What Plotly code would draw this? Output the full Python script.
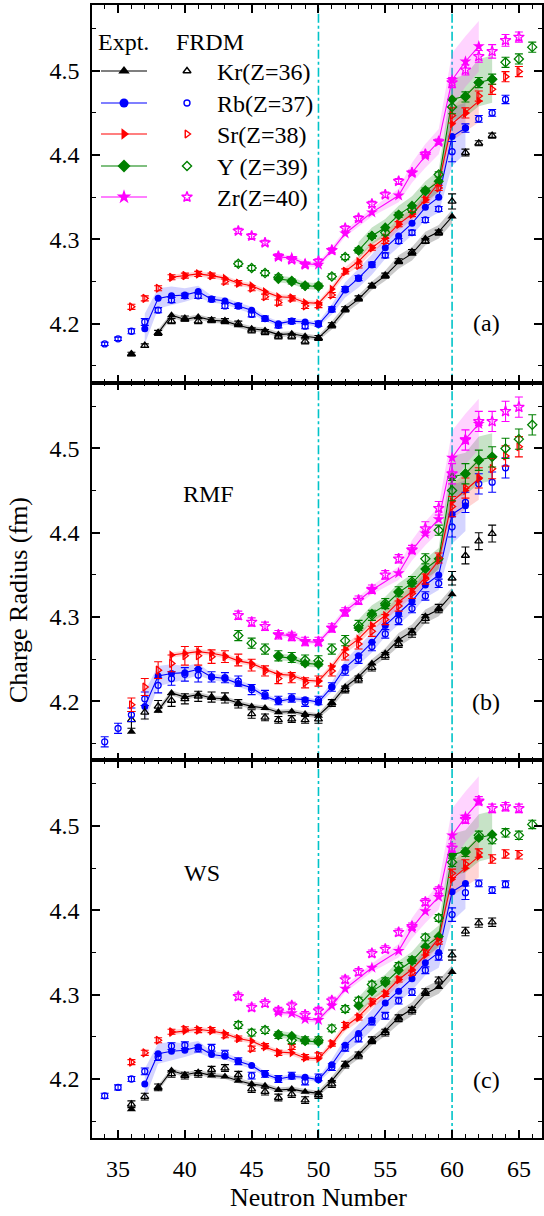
import plotly.graph_objects as go

FONT = "Liberation Serif"

# ---------------- experimental radii (filled symbols + lines) with bands ----------------
kr_exp_N = list(range(36, 61))
kr_exp_R = [4.164, None, 4.189, 4.210, 4.205, 4.208, 4.204, 4.203, 4.198, 4.194,
            4.192, 4.187, 4.188, 4.185, 4.183, 4.198, 4.217, 4.229, 4.245, 4.257,
            4.273, 4.283, 4.301, 4.309, 4.327]
kr_exp_band = [0.002, None, 0.004, 0.003, 0.003, 0.003, 0.003, 0.003, 0.003, 0.003,
               0.003, 0.003, 0.003, 0.003, 0.003, 0.005, 0.005, 0.005, 0.005, 0.006,
               0.008, 0.008, 0.008, 0.008, 0.008]

rb_exp_N = list(range(37, 62))
rb_exp_R = [4.194, 4.230, 4.233, 4.234, 4.238, 4.229, 4.227, 4.221, 4.216, 4.206,
            4.200, 4.203, 4.202, 4.199, 4.217, 4.240, 4.254, 4.270, 4.290, 4.304,
            4.319, 4.338, 4.350, 4.422, 4.432]
rb_exp_band = [0.018, 0.012, 0.011, 0.008, 0.007, 0.004, 0.004, 0.004, 0.004, 0.003,
               0.003, 0.003, 0.003, 0.003, 0.006, 0.009, 0.011, 0.012, 0.013, 0.013,
               0.014, 0.015, 0.018, 0.035, 0.030]

sr_exp_N = list(range(39, 63))
sr_exp_R = [4.255, 4.257, 4.259, 4.257, 4.254, 4.248, 4.245, 4.238, 4.232, 4.231,
            4.225, 4.224, 4.241, 4.262, 4.274, 4.290, 4.302, 4.318, 4.330, 4.347,
            4.367, 4.437, 4.450, 4.464]
sr_exp_band = [0.003, 0.003, 0.003, 0.003, 0.003, 0.003, 0.003, 0.003, 0.003, 0.003,
               0.003, 0.003, 0.004, 0.005, 0.006, 0.006, 0.006, 0.007, 0.007, 0.008,
               0.009, 0.020, 0.022, 0.025]

y_exp_N = list(range(47, 64))
y_exp_R = [4.253, 4.251, 4.245, 4.244, None, None, 4.287, 4.304, 4.314, 4.329,
           4.340, 4.357, 4.369, 4.466, 4.470, 4.486, 4.490]
y_exp_band = [0.004, 0.004, 0.004, 0.004, None, None, 0.010, 0.010, 0.010, 0.011,
              0.011, 0.012, 0.013, 0.025, 0.025, 0.028, 0.028]

zr_exp_N = [47, 48, 49, 50, 51, 52, 54, 56, 57, 58, 59, 60, 61, 62]
zr_exp_R = [4.279, 4.278, 4.271, 4.270, 4.287, 4.307, 4.332, 4.352, 4.379, 4.399,
            4.416, 4.489, 4.511, 4.529]
zr_exp_band = [0.003, 0.003, 0.003, 0.003, 0.004, 0.004, 0.005, 0.008, 0.012, 0.014,
               0.015, 0.032, 0.030, 0.030]

# ---------------- model predictions (open symbols with error bars) ----------------
kr_th_N = list(range(36, 64))
rb_th_N = list(range(34, 65))
sr_th_N = list(range(36, 66))
y_th_N = list(range(44, 67))
zr_th_N = list(range(44, 66))

# (a) FRDM
frdm_kr_R = [4.164, 4.174, 4.189, 4.203, 4.206, 4.203, 4.204, 4.203, 4.200, 4.192,
             4.190, 4.185, 4.185, 4.179, 4.183, 4.198, 4.217, 4.230, 4.245, 4.257,
             4.274, 4.285, 4.298, 4.308, 4.345, 4.403, 4.414, 4.423]
frdm_kr_E = [0.002, 0.002, 0.003, 0.003, 0.003, 0.003, 0.003, 0.003, 0.003, 0.003,
             0.003, 0.003, 0.003, 0.003, 0.003, 0.003, 0.003, 0.003, 0.003, 0.003,
             0.003, 0.003, 0.003, 0.003, 0.009, 0.004, 0.003, 0.003]
frdm_rb_R = [4.176, 4.182, 4.191, 4.202, 4.216, 4.228, 4.233, 4.233, 4.229, 4.221,
             4.221, 4.211, 4.206, 4.198, 4.203, 4.197, 4.200, 4.217, 4.241, 4.254,
             4.270, 4.281, 4.298, 4.308, 4.323, 4.336, 4.404, 4.432, 4.443, 4.450,
             4.466]
frdm_rb_E = [0.002, 0.002, 0.003, 0.004, 0.003, 0.003, 0.003, 0.003, 0.003, 0.003,
             0.003, 0.003, 0.003, 0.003, 0.003, 0.003, 0.003, 0.003, 0.003, 0.003,
             0.003, 0.003, 0.003, 0.003, 0.003, 0.003, 0.012, 0.005, 0.004, 0.004,
             0.005]
frdm_sr_R = [4.220, 4.230, 4.242, 4.255, 4.257, 4.259, 4.257, 4.250, 4.248, 4.242,
             4.232, 4.225, 4.230, 4.221, 4.222, 4.234, 4.262, 4.269, 4.290, 4.298,
             4.318, 4.330, 4.347, 4.361, 4.447, 4.450, 4.470, 4.478, 4.493, 4.499]
frdm_sr_E = [0.003, 0.003, 0.003, 0.003, 0.003, 0.003, 0.003, 0.003, 0.003, 0.003,
             0.003, 0.003, 0.003, 0.003, 0.003, 0.003, 0.003, 0.003, 0.003, 0.003,
             0.003, 0.003, 0.003, 0.003, 0.009, 0.006, 0.006, 0.006, 0.006, 0.006]
frdm_y_R = [4.271, 4.266, 4.260, 4.255, 4.250, 4.245, 4.245, 4.256, 4.279, 4.287,
            4.304, 4.308, 4.329, 4.335, 4.358, 4.377, 4.457, 4.469, 4.486, 4.490,
            4.510, 4.514, 4.528]
frdm_y_E = [0.003, 0.003, 0.003, 0.003, 0.003, 0.003, 0.003, 0.003, 0.003, 0.003,
            0.003, 0.003, 0.003, 0.003, 0.003, 0.003, 0.008, 0.006, 0.006, 0.006,
            0.006, 0.006, 0.006]
frdm_zr_R = [4.310, 4.304, 4.296, 4.280, 4.276, 4.270, 4.274, 4.287, 4.313, 4.325,
             4.342, 4.353, 4.369, 4.379, 4.401, 4.416, 4.486, 4.501, 4.517, 4.523,
             4.536, 4.540]
frdm_zr_E = [0.003, 0.003, 0.003, 0.003, 0.003, 0.003, 0.003, 0.003, 0.003, 0.003,
             0.003, 0.003, 0.003, 0.003, 0.003, 0.003, 0.006, 0.006, 0.007, 0.008,
             0.007, 0.006]

# (b) RMF
rmf_kr_R = [4.178, 4.187, 4.194, 4.201, 4.203, 4.206, 4.205, 4.204, 4.197, 4.185,
            4.181, 4.178, 4.179, 4.178, 4.179, 4.198, 4.214, 4.226, 4.240, 4.254,
            4.268, 4.281, 4.298, 4.310, 4.346, 4.373, 4.390, 4.399]
rmf_kr_E = [0.010, 0.008, 0.007, 0.007, 0.006, 0.006, 0.006, 0.006, 0.005, 0.005,
            0.004, 0.004, 0.004, 0.004, 0.005, 0.004, 0.004, 0.004, 0.004, 0.004,
            0.004, 0.005, 0.005, 0.005, 0.008, 0.010, 0.010, 0.010]
rmf_rb_R = [4.152, 4.168, 4.184, 4.203, 4.219, 4.227, 4.232, 4.231, 4.229, 4.228,
            4.224, 4.214, 4.208, 4.201, 4.204, 4.199, 4.201, 4.217, 4.236, 4.250,
            4.265, 4.280, 4.296, 4.310, 4.325, 4.340, 4.407, 4.436, 4.458, 4.460,
            4.477]
rmf_rb_E = [0.006, 0.006, 0.008, 0.008, 0.009, 0.008, 0.008, 0.008, 0.006, 0.006,
            0.006, 0.006, 0.005, 0.005, 0.005, 0.005, 0.005, 0.005, 0.005, 0.005,
            0.005, 0.005, 0.005, 0.005, 0.005, 0.005, 0.012, 0.012, 0.012, 0.012,
            0.012]
rmf_sr_R = [4.196, 4.217, 4.237, 4.245, 4.254, 4.254, 4.253, 4.253, 4.249, 4.243,
            4.236, 4.227, 4.228, 4.222, 4.224, 4.236, 4.255, 4.268, 4.283, 4.297,
            4.313, 4.328, 4.345, 4.370, 4.431, 4.453, 4.465, 4.476, 4.491, 4.502]
rmf_sr_E = [0.008, 0.010, 0.010, 0.010, 0.011, 0.011, 0.008, 0.007, 0.007, 0.007,
            0.006, 0.006, 0.006, 0.006, 0.006, 0.006, 0.006, 0.006, 0.006, 0.006,
            0.006, 0.006, 0.006, 0.006, 0.012, 0.012, 0.012, 0.012, 0.012, 0.012]
rmf_y_R = [4.278, 4.269, 4.262, 4.254, 4.252, 4.249, 4.248, 4.262, 4.272, 4.290,
           4.302, 4.316, 4.330, 4.342, 4.369, 4.403, 4.450, 4.470, 4.486, 4.490,
           4.500, 4.511, 4.528]
rmf_y_E = [0.006, 0.006, 0.006, 0.006, 0.006, 0.006, 0.006, 0.006, 0.006, 0.006,
           0.006, 0.006, 0.006, 0.006, 0.006, 0.006, 0.012, 0.012, 0.012, 0.012,
           0.012, 0.012, 0.012]
rmf_zr_R = [4.302, 4.294, 4.289, 4.279, 4.277, 4.271, 4.271, 4.287, 4.306, 4.320,
            4.333, 4.350, 4.369, 4.380, 4.405, 4.429, 4.470, 4.510, 4.532, 4.532,
            4.544, 4.549]
rmf_zr_E = [0.005, 0.005, 0.005, 0.005, 0.005, 0.005, 0.005, 0.005, 0.005, 0.005,
            0.005, 0.005, 0.005, 0.005, 0.008, 0.008, 0.012, 0.012, 0.012, 0.012,
            0.012, 0.012]

# (c) WS
ws_kr_R = [4.170, 4.179, 4.190, 4.206, 4.204, 4.206, 4.211, 4.213, 4.205, 4.188,
           4.185, 4.178, 4.182, 4.175, 4.181, 4.194, 4.217, 4.228, 4.246, 4.255,
           4.272, 4.281, 4.303, 4.317, 4.347, 4.375, 4.385, 4.386]
ws_kr_E = [0.004, 0.004, 0.004, 0.004, 0.004, 0.004, 0.004, 0.004, 0.004, 0.004,
           0.004, 0.004, 0.004, 0.004, 0.004, 0.004, 0.004, 0.004, 0.004, 0.004,
           0.004, 0.004, 0.004, 0.004, 0.006, 0.005, 0.005, 0.005]
ws_rb_R = [4.180, 4.190, 4.200, 4.209, 4.226, 4.239, 4.240, 4.236, 4.237, 4.230,
           4.221, 4.204, 4.206, 4.200, 4.204, 4.197, 4.202, 4.214, 4.237, 4.248,
           4.268, 4.275, 4.293, 4.303, 4.329, 4.345, 4.395, 4.421, 4.432, 4.424,
           4.431]
ws_rb_E = [0.003, 0.003, 0.003, 0.004, 0.004, 0.004, 0.004, 0.004, 0.004, 0.004,
           0.004, 0.004, 0.004, 0.004, 0.004, 0.004, 0.004, 0.004, 0.004, 0.004,
           0.004, 0.004, 0.004, 0.004, 0.004, 0.004, 0.008, 0.008, 0.004, 0.004,
           0.004]
ws_sr_R = [4.220, 4.231, 4.246, 4.256, 4.259, 4.258, 4.258, 4.252, 4.248, 4.236,
           4.239, 4.231, 4.238, 4.226, 4.228, 4.242, 4.264, 4.273, 4.292, 4.301,
           4.318, 4.326, 4.350, 4.363, 4.444, 4.455, 4.468, 4.461, 4.467, 4.466]
ws_sr_E = [0.003, 0.003, 0.003, 0.003, 0.003, 0.003, 0.003, 0.003, 0.003, 0.003,
           0.003, 0.003, 0.003, 0.003, 0.003, 0.003, 0.003, 0.003, 0.003, 0.003,
           0.003, 0.003, 0.003, 0.003, 0.005, 0.005, 0.005, 0.005, 0.005, 0.005]
ws_y_R = [4.264, 4.255, 4.258, 4.252, 4.246, 4.246, 4.246, 4.260, 4.283, 4.293,
          4.312, 4.316, 4.334, 4.341, 4.368, 4.391, 4.457, 4.469, 4.489, 4.484,
          4.492, 4.489, 4.502]
ws_y_E = [0.004, 0.004, 0.004, 0.004, 0.004, 0.004, 0.004, 0.004, 0.004, 0.004,
          0.004, 0.004, 0.004, 0.004, 0.004, 0.004, 0.005, 0.005, 0.005, 0.005,
          0.005, 0.005, 0.005]
ws_zr_R = [4.298, 4.285, 4.290, 4.281, 4.287, 4.276, 4.281, 4.293, 4.318, 4.327,
           4.349, 4.354, 4.374, 4.381, 4.410, 4.424, 4.474, 4.508, 4.530, 4.521,
           4.523, 4.521]
ws_zr_E = [0.004, 0.004, 0.004, 0.004, 0.004, 0.004, 0.004, 0.004, 0.004, 0.004,
           0.004, 0.004, 0.004, 0.004, 0.004, 0.004, 0.005, 0.005, 0.005, 0.005,
           0.005, 0.005]

legend_labels = ["Kr(Z=36)", "Rb(Z=37)", "Sr(Z=38)", "Y (Z=39)", "Zr(Z=40)"]
panel_tags = ["(a)", "(b)", "(c)"]
model_names = ["FRDM", "RMF", "WS"]

# ---------------- styles ----------------
ELEMENTS = [
    dict(color="#000000", band="rgba(80,80,80,0.30)", sym="triangle-up", fs=8, os=7,
         eN=kr_exp_N, eR=kr_exp_R, eB=kr_exp_band, tN=kr_th_N,
         th=[(frdm_kr_R, frdm_kr_E), (rmf_kr_R, rmf_kr_E), (ws_kr_R, ws_kr_E)]),
    dict(color="#0000FF", band="rgba(60,60,255,0.22)", sym="circle", fs=7, os=6,
         eN=rb_exp_N, eR=rb_exp_R, eB=rb_exp_band, tN=rb_th_N,
         th=[(frdm_rb_R, frdm_rb_E), (rmf_rb_R, rmf_rb_E), (ws_rb_R, ws_rb_E)]),
    dict(color="#FF0000", band="rgba(255,60,60,0.22)", sym="triangle-right", fs=8, os=7,
         eN=sr_exp_N, eR=sr_exp_R, eB=sr_exp_band, tN=sr_th_N,
         th=[(frdm_sr_R, frdm_sr_E), (rmf_sr_R, rmf_sr_E), (ws_sr_R, ws_sr_E)]),
    dict(color="#008000", band="rgba(0,128,0,0.22)", sym="diamond", fs=8, os=7,
         eN=y_exp_N, eR=y_exp_R, eB=y_exp_band, tN=y_th_N,
         th=[(frdm_y_R, frdm_y_E), (rmf_y_R, rmf_y_E), (ws_y_R, ws_y_E)]),
    dict(color="#FF00FF", band="rgba(255,60,255,0.22)", sym="star", fs=9, os=8,
         eN=zr_exp_N, eR=zr_exp_R, eB=zr_exp_band, tN=zr_th_N,
         th=[(frdm_zr_R, frdm_zr_E), (rmf_zr_R, rmf_zr_E), (ws_zr_R, ws_zr_E)]),
]

# figure geometry (pixels)
W, H = 544, 1216
ML, MR, MT, MB = 92, 2, 5, 78
PW, PH = W - ML - MR, H - MT - MB
THIRD = PH / 3.0
XR = [33.05, 66.73]
YR = [4.13, 4.578]


def px_to_paper(px, py):
    return (px - ML) / PW, (MT + PH - py) / PH


def px_to_panel_a(px, py):
    n = XR[0] + (px - ML) / PW * (XR[1] - XR[0])
    r = YR[1] - (py - MT) / THIRD * (YR[1] - YR[0])
    return n, r


def segments(N, R, B):
    segs, cur = [], []
    for n, r, b in zip(N, R, B):
        if r is None:
            if cur:
                segs.append(cur)
            cur = []
        else:
            cur.append((n, r, b))
    if cur:
        segs.append(cur)
    return segs


fig = go.Figure()
ax_names = ["", "2", "3"]

for p in range(3):
    xa, ya = "x" + ax_names[p], "y" + ax_names[p]
    for el in ELEMENTS:
        for seg in segments(el["eN"], el["eR"], el["eB"]):
            if len(seg) < 2:
                continue
            xs = [s[0] for s in seg] + [s[0] for s in seg[::-1]]
            ys = [s[1] + s[2] for s in seg] + [s[1] - s[2] for s in seg[::-1]]
            fig.add_trace(go.Scatter(x=xs, y=ys, fill="toself", fillcolor=el["band"],
                                     line=dict(width=0), mode="lines", hoverinfo="skip",
                                     xaxis=xa, yaxis=ya))
    for el in ELEMENTS:
        fig.add_trace(go.Scatter(x=el["eN"], y=el["eR"], mode="lines+markers",
                                 connectgaps=False,
                                 line=dict(color=el["color"], width=1.1),
                                 marker=dict(symbol=el["sym"], size=el["fs"], color=el["color"],
                                             line=dict(width=0)),
                                 xaxis=xa, yaxis=ya))
    for el in ELEMENTS:
        R, E = el["th"][p]
        fig.add_trace(go.Scatter(x=el["tN"], y=R, mode="markers",
                                 marker=dict(symbol=el["sym"] + "-open", size=el["os"],
                                             color=el["color"], line=dict(width=1.3)),
                                 error_y=dict(type="data", array=E, visible=True,
                                              color=el["color"], thickness=1.1, width=4),
                                 xaxis=xa, yaxis=ya))

# ---------------- legend (panel a) ----------------
leg_rows = [71, 103, 134, 166, 197]
for el, yy in zip(ELEMENTS, leg_rows):
    (n0, r0), (n1, _), (nm, _), (no, _) = (px_to_panel_a(101, yy), px_to_panel_a(147, yy),
                                          px_to_panel_a(124, yy), px_to_panel_a(187, yy))
    fig.add_trace(go.Scatter(x=[n0, n1], y=[r0, r0], mode="lines",
                             line=dict(color=el["color"], width=1.2), hoverinfo="skip"))
    fig.add_trace(go.Scatter(x=[nm], y=[r0], mode="markers",
                             marker=dict(symbol=el["sym"], size=el["fs"] + 2, color=el["color"]),
                             hoverinfo="skip"))
    fig.add_trace(go.Scatter(x=[no], y=[r0], mode="markers",
                             marker=dict(symbol=el["sym"] + "-open", size=el["os"],
                                         color=el["color"], line=dict(width=1.4)),
                             hoverinfo="skip"))

ann = []


def add_text(text, px, py, xanchor="center", size=24, angle=0):
    x, y = px_to_paper(px, py)
    ann.append(dict(x=x, y=y, xref="paper", yref="paper", text=text, showarrow=False,
                    xanchor=xanchor, yanchor="middle", textangle=angle,
                    font=dict(family=FONT, size=size, color="black")))


for lab, yy in zip(legend_labels, leg_rows):
    add_text(lab, 215, yy + 1, xanchor="left")
add_text("Expt.", 123, 42)
add_text(model_names[0], 210, 42)
for tag, yy in zip(panel_tags, [323, 702, 1080]):
    add_text(tag, 486, yy)
add_text(model_names[1], 208, 494)
add_text(model_names[2], 202, 873)
add_text("Neutron Number", 318, 1197, size=26)
add_text("Charge Radius (fm)", 18, 600, size=26, angle=-90)

# ---------------- axes ----------------
doms = [[(2 * THIRD) / PH, 1.0], [THIRD / PH, 2 * THIRD / PH], [0.0, THIRD / PH]]
layout = dict(width=W, height=H, margin=dict(l=ML, r=MR, t=MT, b=MB),
              paper_bgcolor="white", plot_bgcolor="rgba(0,0,0,0)", showlegend=False,
              font=dict(family=FONT, size=24, color="black"),
              annotations=ann)
axis_common = dict(showline=True, linecolor="black", linewidth=1.6, mirror="allticks",
                   ticks="inside", tickwidth=1.5, tickcolor="black", showgrid=False,
                   zeroline=False, automargin=False,
                   tickfont=dict(family=FONT, size=24, color="black"))
for p in range(3):
    s = ax_names[p]
    layout["xaxis" + s] = dict(axis_common, range=XR, tick0=35, dtick=5, ticklen=8,
                               minor=dict(dtick=1, ticklen=4, ticks="inside", tickwidth=1.2,
                                          tickcolor="black"),
                               showticklabels=(p == 2), ticklabelstandoff=8,
                               anchor="y" + s, domain=[0, 1])
    layout["yaxis" + s] = dict(axis_common, range=YR, tick0=4.2, dtick=0.1, tickformat=".1f",
                               ticklen=8,
                               minor=dict(tick0=4.15, dtick=0.05, ticklen=4, ticks="inside",
                                          tickwidth=1.2, tickcolor="black"),
                               ticklabelstandoff=6, anchor="x" + s, domain=doms[p])

shapes = []
for p in range(3):
    s = ax_names[p]
    for xv in [50, 60]:
        shapes.append(dict(type="line", xref="x" + s, yref="y" + s + " domain",
                           x0=xv, x1=xv, y0=0, y1=1, layer="below",
                           line=dict(color="rgb(0,195,200)", width=1.6, dash="dashdot")))
layout["shapes"] = shapes
fig.update_layout(**layout)

fig.write_html("out.html", config={"displayModeBar": False},
               post_script="document.body.style.margin='0';")
